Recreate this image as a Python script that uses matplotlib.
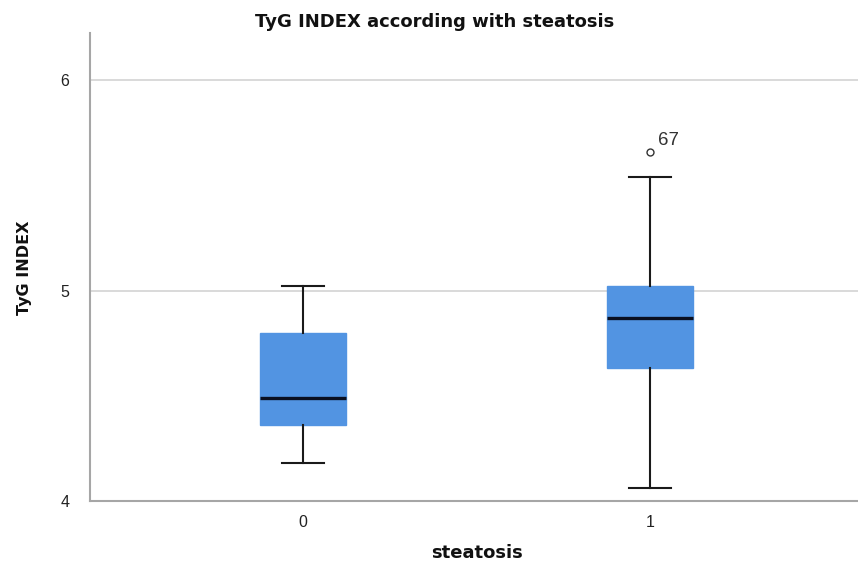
import matplotlib.pyplot as plt

plt.rcParams['font.family'] = ['Liberation Sans', 'DejaVu Sans']

# values
groups = ['0', '1']
positions = [0, 1]
whislo = [4.18, 4.06]
q1 = [4.36, 4.63]
med = [4.49, 4.87]
q3 = [4.80, 5.02]
whishi = [5.02, 5.54]
fliers = [[], [5.66]]
flier_ids = [[], ['67']]

stats = []
for i in range(len(groups)):
    stats.append(dict(label=groups[i], whislo=whislo[i], q1=q1[i], med=med[i],
                      q3=q3[i], whishi=whishi[i], fliers=fliers[i]))

fig = plt.figure(figsize=(8.58, 5.64), dpi=100)
ax = fig.add_axes([0.105, 0.112, 0.895, 0.829])

ax.bxp(stats, positions=positions, widths=0.25, patch_artist=True,
       boxprops=dict(facecolor='#5294e2', edgecolor='#5294e2', linewidth=1),
       medianprops=dict(color='#0a0f20', linewidth=2.4),
       whiskerprops=dict(color='#1a1a1a', linewidth=1.5),
       capprops=dict(color='#1a1a1a', linewidth=1.5),
       capwidths=0.12,
       flierprops=dict(marker='o', markersize=5, markerfacecolor='white',
                       markeredgecolor='#333333', markeredgewidth=1))

for i in range(len(groups)):
    for v, lab in zip(fliers[i], flier_ids[i]):
        ax.annotate(lab, (positions[i], v), xytext=(6, 5), textcoords='offset points',
                    fontsize=13.5, color='#333333')

ax.set_xlim(-0.614, 1.6)
ax.set_ylim(4, 6.223)
ax.set_yticks([4, 5, 6])
ax.set_yticklabels(['4', '5', '6'])
ax.set_xticks(positions)
ax.set_xticklabels(groups)
ax.tick_params(length=0, labelsize=11.5, labelcolor='#222222')
ax.tick_params(axis='y', pad=15)
ax.tick_params(axis='x', pad=10)
for y in [5, 6]:
    ax.axhline(y, color='#d3d3d3', linewidth=1.2, zorder=0)

for s in ['top', 'right']:
    ax.spines[s].set_visible(False)
for s in ['left', 'bottom']:
    ax.spines[s].set_color('#a6a6a6')
    ax.spines[s].set_linewidth(1.5)

# SPSS output renders the headings wide, DejaVu bold gets close to that
head = ['DejaVu Sans']
fig.text(0.506, 0.952, 'TyG INDEX according with steatosis', ha='center', va='baseline',
         fontsize=13, fontweight='bold', color='#111111', family=head)
fig.text(0.029, 0.525, 'TyG INDEX', ha='center', va='center', rotation=90,
         fontsize=11.5, fontweight='bold', color='#111111', family=head)
fig.text(0.556, 0.004, 'steatosis', ha='center', va='bottom',
         fontsize=13, fontweight='bold', color='#111111', family=head)

plt.savefig('out.png', dpi=100)
